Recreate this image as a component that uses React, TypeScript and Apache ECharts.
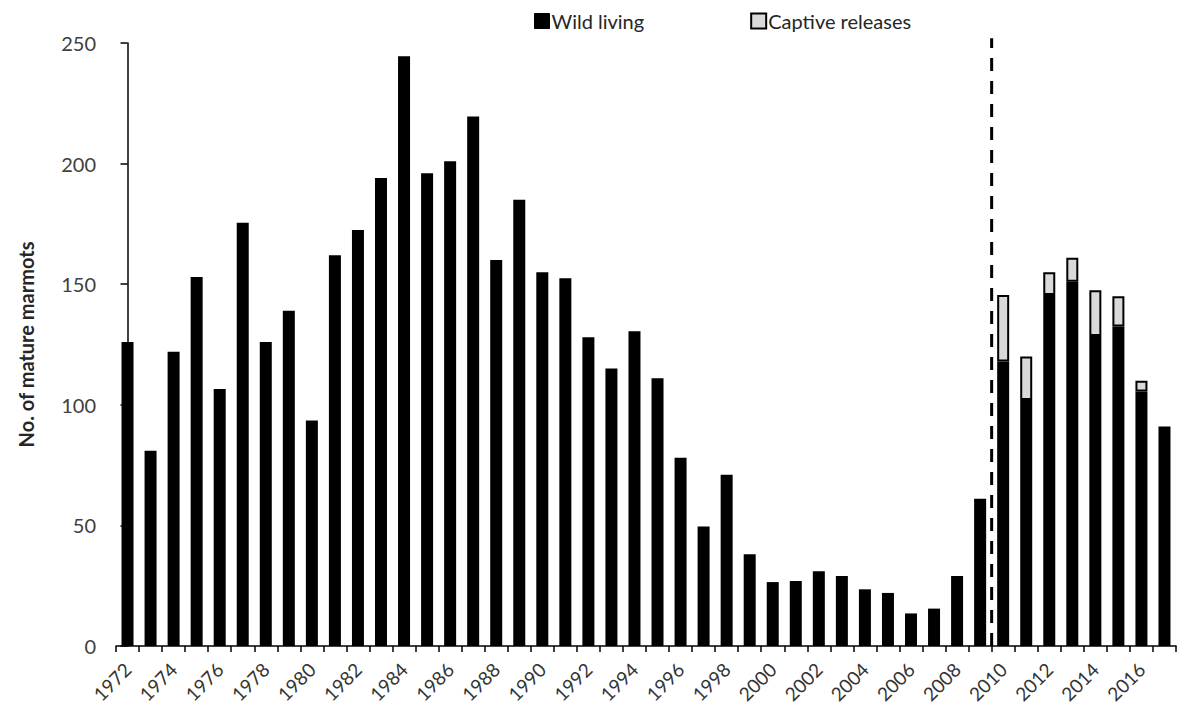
import React, { useEffect, useRef } from "react";
import * as echarts from "echarts";

const years: string[] = [
  "1972","1973","1974","1975","1976","1977","1978","1979","1980","1981",
  "1982","1983","1984","1985","1986","1987","1988","1989","1990","1991",
  "1992","1993","1994","1995","1996","1997","1998","1999","2000","2001",
  "2002","2003","2004","2005","2006","2007","2008","2009","2010","2011",
  "2012","2013","2014","2015","2016","2017",
];

const wildLiving: number[] = [
  126, 81, 122, 153, 106.5, 175.5, 126, 139, 93.5, 162,
  172.5, 194, 244.5, 196, 201, 219.5, 160, 185, 155, 152.5,
  128, 115, 130.5, 111, 78, 49.5, 71, 38, 26.5, 27,
  31, 29, 23.5, 22, 13.5, 15.5, 29, 61, 118, 102,
  145.5, 151, 128.5, 132.5, 105.5, 91,
];

const captiveReleases: (number | null)[] = [
  null, null, null, null, null, null, null, null, null, null,
  null, null, null, null, null, null, null, null, null, null,
  null, null, null, null, null, null, null, null, null, null,
  null, null, null, null, null, null, null, null, 27.5, 18,
  9.5, 10, 19, 12.5, 4.5, null,
];

const yTicks = { min: 0, max: 250, interval: 50 };
const releaseStartYear = "2010";
const dividerTop = 252;

const FONT = "Lato, 'Open Sans', sans-serif";

export default function App() {
  const ref = useRef<HTMLDivElement>(null);

  useEffect(() => {
    if (!ref.current) return;
    const chart = echarts.init(ref.current, undefined, { renderer: "svg" });
    const boundary = years.indexOf(releaseStartYear) - 0.5;

    chart.setOption({
      animation: false,
      backgroundColor: "#ffffff",
      textStyle: { fontFamily: FONT },
      legend: {
        left: 529,
        top: 6,
        itemWidth: 15,
        itemHeight: 15,
        itemGap: 106,
        icon: "rect",
        textStyle: { fontSize: 20, color: "#262626", fontFamily: FONT, padding: [0, 0, 0, -3] },
        data: [
          { name: "Wild living", itemStyle: { color: "#000", borderColor: "#000", borderWidth: 1 } },
          { name: "Captive releases", itemStyle: { color: "#d9d9d9", borderColor: "#000", borderWidth: 2 } },
        ],
      },
      grid: { left: 116, right: 1, top: 43, bottom: 63, containLabel: false },
      xAxis: [
        {
          type: "category",
          data: years,
          boundaryGap: true,
          axisLine: { lineStyle: { color: "#000", width: 1.5 } },
          axisTick: { show: true, interval: 0, length: 6, lineStyle: { color: "#000", width: 1.5 } },
          axisLabel: {
            interval: 1,
            rotate: 45,
            fontSize: 19,
            color: "#333333",
            fontFamily: FONT,
            margin: 20,
          },
        },
        {
          type: "value",
          show: false,
          min: -0.5,
          max: years.length - 0.5,
        },
      ],
      yAxis: {
        type: "value",
        min: yTicks.min,
        max: yTicks.max,
        interval: yTicks.interval,
        name: "No. of mature marmots",
        nameLocation: "middle",
        nameGap: 80,
        nameTextStyle: { fontSize: 20, fontWeight: "bold", color: "#262626", fontFamily: FONT },
        splitLine: { show: false },
        axisLine: { show: true, lineStyle: { color: "#000", width: 1.5 } },
        axisTick: { show: true, length: 7, lineStyle: { color: "#000", width: 1.5 } },
        axisLabel: { fontSize: 20, color: "#404040", fontFamily: FONT, margin: 20 },
      },
      series: [
        {
          name: "Wild living",
          type: "bar",
          stack: "total",
          data: wildLiving,
          barWidth: 12,
          itemStyle: { color: "#000000", borderColor: "#000000", borderWidth: 0 },
        },
        {
          name: "Captive releases",
          type: "bar",
          stack: "total",
          data: captiveReleases,
          barWidth: 12,
          itemStyle: { color: "#d9d9d9", borderColor: "#000000", borderWidth: 2 },
        },
        {
          name: "divider",
          type: "line",
          xAxisIndex: 1,
          clip: false,
          showSymbol: false,
          symbol: "none",
          silent: true,
          lineStyle: { color: "#000", width: 3, type: [13, 10] },
          data: [
            [boundary, yTicks.min],
            [boundary, dividerTop],
          ],
          z: 5,
        },
      ],
    });
    return () => chart.dispose();
  }, []);

  return (
    <div
      ref={ref}
      style={{ position: "absolute", left: 0, top: 0, width: 1177, height: 709 }}
    />
  );
}
